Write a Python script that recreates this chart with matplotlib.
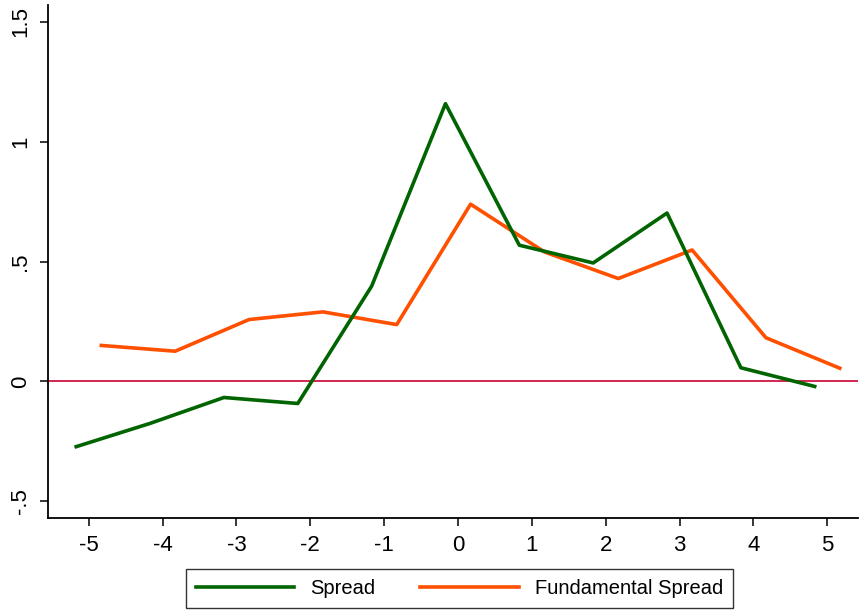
import matplotlib.pyplot as plt
import numpy as np

plt.rcParams['font.family'] = ['Liberation Sans', 'DejaVu Sans']

# event time (years around the event)
periods = np.arange(-5, 6)
spread = [-0.272, -0.175, -0.067, -0.092, 0.397, 1.158, 0.568, 0.494, 0.702, 0.057, -0.021]
fund_spread = [0.150, 0.126, 0.258, 0.290, 0.237, 0.739, 0.540, 0.429, 0.548, 0.182, 0.055]

shift = 0.17

fig = plt.figure(figsize=(8.6, 6.11), dpi=100)
ax = fig.add_axes([0.056, 0.152, 0.942, 0.840])

ax.axhline(0, color='#cc0033', lw=1.2, zorder=1)
l1, = ax.plot(periods - shift, spread, color='#006400', lw=2.6, label='Spread', zorder=3)
l2, = ax.plot(periods + shift, fund_spread, color='#ff5000', lw=2.6, label='Fundamental Spread', zorder=2)

ax.set_xlim(-5.55, 5.42)
ax.set_ylim(-0.57, 1.57)
ax.set_xticks(periods)
ax.set_xticklabels([str(p) for p in periods])
ax.set_yticks([-0.5, 0, 0.5, 1, 1.5])
ax.set_yticklabels(['-.5', '0', '.5', '1', '1.5'], rotation=90, va='center')
ax.tick_params(axis='both', direction='out', length=6, width=1.1, labelsize=16, pad=6)

for s in ['top', 'right']:
    ax.spines[s].set_visible(False)
for s in ['left', 'bottom']:
    ax.spines[s].set_linewidth(1.3)

leg = fig.legend(handles=[l1, l2], loc='lower center', bbox_to_anchor=(0.534, -0.012),
                 ncol=2, fontsize=14.5, frameon=True, fancybox=False,
                 edgecolor='black', handlelength=4.9, columnspacing=2.2,
                 borderpad=0.5, handletextpad=0.8)
leg.get_frame().set_linewidth(1.0)

fig.savefig('out.png', dpi=100, facecolor='white')
